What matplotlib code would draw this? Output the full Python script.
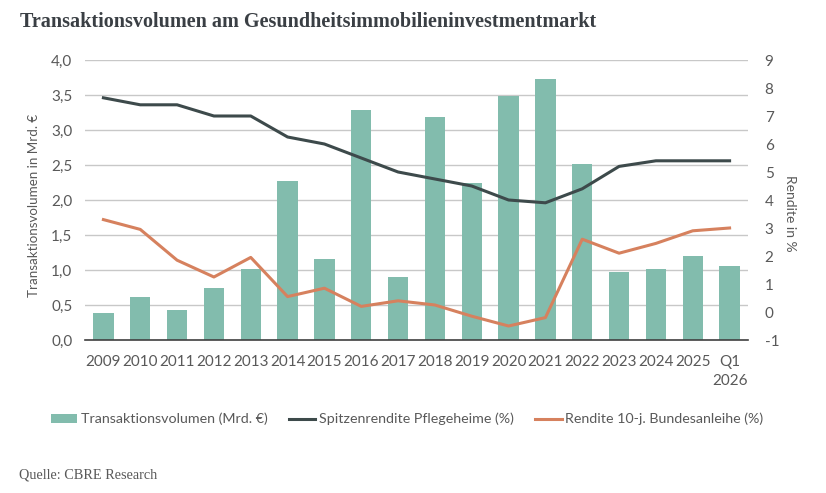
import matplotlib
matplotlib.use("Agg")
import matplotlib.pyplot as plt
import numpy as np

categories = ["2009", "2010", "2011", "2012", "2013", "2014", "2015", "2016", "2017",
              "2018", "2019", "2020", "2021", "2022", "2023", "2024", "2025", "Q1\n2026"]
volumen = [0.38, 0.61, 0.43, 0.75, 1.01, 2.27, 1.16, 3.28, 0.90,
           3.18, 2.25, 3.49, 3.73, 2.52, 0.97, 1.01, 1.20, 1.06]
spitzenrendite = [7.65, 7.4, 7.4, 7.0, 7.0, 6.25, 6.0, 5.5, 5.0,
                  4.75, 4.5, 4.0, 3.9, 4.4, 5.2, 5.4, 5.4, 5.4]
bundesanleihe = [3.3, 2.95, 1.85, 1.25, 1.95, 0.55, 0.85, 0.2, 0.4,
                 0.25, -0.15, -0.5, -0.2, 2.6, 2.1, 2.45, 2.9, 3.0]
left_ticks = [0.0, 0.5, 1.0, 1.5, 2.0, 2.5, 3.0, 3.5, 4.0]
right_ticks = [-1, 0, 1, 2, 3, 4, 5, 6, 7, 8, 9]

font = ["Lato", "DejaVu Sans"]
txt = "#595959"
bar_c = "#82bcad"
dark_c = "#3d4a4b"
orange_c = "#d6815e"

W, H = 826, 493
fig = plt.figure(figsize=(W / 100, H / 100), dpi=100)
ax = fig.add_axes([85 / W, 1 - 340 / H, (748 - 85) / W, (340 - 60) / H])
ax2 = ax.twinx()

x = np.arange(len(categories))
ax.bar(x, volumen, width=0.55, color=bar_c, zorder=2, label="Transaktionsvolumen (Mrd. €)")
ax.set_ylim(0, 4.0)
ax.set_yticks(left_ticks)
ax.set_yticklabels([f"{v:.1f}".replace(".", ",") for v in left_ticks], family=font, fontsize=11, color=txt)
ax.set_xlim(-0.5, len(categories) - 0.5)
ax.set_xticks(x)
ax.set_xticklabels(categories, family=font, fontsize=11, color=txt, linespacing=1.45)
ax.tick_params(axis="y", length=0, pad=9)
ax.tick_params(axis="x", length=0, pad=11)
ax.grid(axis="y", color="#c8c8c8", linewidth=1, zorder=0)
ax.set_axisbelow(True)
for s in ["top", "right", "left"]:
    ax.spines[s].set_visible(False)
ax.spines["bottom"].set_color("#404040")
ax.spines["bottom"].set_linewidth(1.2)
ax.set_ylabel("Transaktionsvolumen in Mrd. €", family=font, fontsize=9.6, color=txt, labelpad=8)
ax.yaxis.label.set_y(0.479)

ax2.plot(x, spitzenrendite, color=dark_c, linewidth=2.2, label="Spitzenrendite Pflegeheime (%)", zorder=3)
ax2.plot(x, bundesanleihe, color=orange_c, linewidth=2.2, label="Rendite 10-j. Bundesanleihe (%)", zorder=3)
ax2.set_ylim(-1, 9)
ax2.set_yticks(right_ticks)
ax2.set_yticklabels([str(v) for v in right_ticks], family=font, fontsize=11, color=txt)
ax2.tick_params(axis="y", length=0, pad=12)
for s in ["top", "right", "left", "bottom"]:
    ax2.spines[s].set_visible(False)
ax2.set_ylabel("Rendite in %", family=font, fontsize=10, color=txt, rotation=270, labelpad=12)
ax2.yaxis.label.set_y(0.454)

h1, l1 = ax.get_legend_handles_labels()
h2, l2 = ax2.get_legend_handles_labels()
fig.legend(h1 + h2, l1 + l2, loc="center", bbox_to_anchor=(407 / W, 1 - 419 / H), ncol=3,
           frameon=False, prop={"family": font, "size": 10.3}, labelcolor=txt,
           handlelength=1.85, handletextpad=0.25, columnspacing=1.5, handleheight=0.55)

fig.text(20 / W, 1 - 22 / H, "Transaktionsvolumen am Gesundheitsimmobilieninvestmentmarkt",
         family="Liberation Serif", fontweight="bold", fontsize=14.5, color="#3a3f44", va="center", ha="left")
fig.text(19 / W, 1 - 475 / H, "Quelle: CBRE Research", family="Liberation Serif", fontsize=10.3,
         color="#595959", va="center", ha="left")

fig.savefig("out.png", dpi=100)
